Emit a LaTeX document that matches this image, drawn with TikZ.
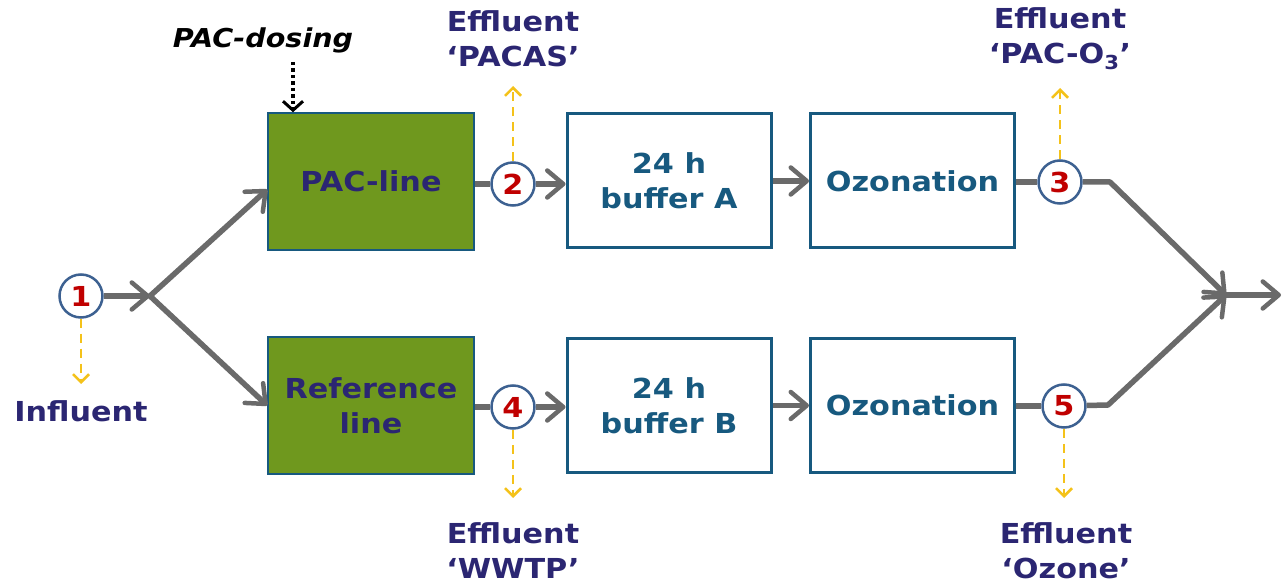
\documentclass[tikz,border=0pt]{standalone}
\usepackage{fontspec}
\setmainfont[FakeStretch=1.1]{DejaVu Sans}
\usetikzlibrary{arrows.meta}
\definecolor{navytxt}{HTML}{2B2672}
\definecolor{tealc}{HTML}{17597F}
\definecolor{pacgreen}{HTML}{6F981E}
\definecolor{flowgray}{HTML}{6A6A6A}
\definecolor{sampy}{HTML}{F4C21A}
\definecolor{numred}{HTML}{C00000}
\definecolor{circb}{HTML}{3D6191}
\tikzset{
  bigfont/.style={font=\fontsize{27.5}{35}\selectfont\bfseries},
  greenbox/.style={draw=tealc, line width=1.5pt, fill=pacgreen, minimum width=206pt, minimum height=137pt, text=navytxt, align=center, bigfont},
  whitebox/.style={draw=tealc, line width=3pt, fill=white, minimum width=204pt, minimum height=134pt, text=tealc, align=center, bigfont},
  sample/.style={circle, draw=circb, line width=2.5pt, fill=white, minimum size=43pt, inner sep=0pt, text=numred, bigfont},
  label/.style={text=navytxt, align=center, bigfont},
  flow/.style={draw=flowgray, line width=5.5pt, line join=round},
  flowarrow/.style={flow, -{Straight Barb[length=16pt,width=27pt,line width=4.5pt,round]}},
  samparrow/.style={draw=sampy, line width=2.5pt, dash pattern=on 9pt off 6pt, -{Straight Barb[length=8pt,width=16pt]}},
  dosearrow/.style={draw=black, line width=3.8pt, dash pattern=on 3.5pt off 3pt, -{Straight Barb[length=9pt,width=20pt,line width=3pt]}}
}
\begin{document}
\begin{tikzpicture}[x=1pt,y=-1pt]
\useasboundingbox (0,0) rectangle (1283,585);
% boxes
\node[greenbox] (pac) at (371,181.5) {PAC-line};
\node[greenbox] (ref) at (371,405.5) {Reference\\line};
\node[whitebox] (bufA) at (669,181) {24 h\\buffer A};
\node[whitebox] (bufB) at (669,405.5) {24 h\\buffer B};
\node[whitebox] (ozA) at (912.5,181) {Ozonation};
\node[whitebox] (ozB) at (912.5,405.5) {Ozonation};
% sample points
\node[sample] (c1) at (81,296) {1};
\node[sample] (c2) at (513,184) {2};
\node[sample] (c3) at (1060,182) {3};
\node[sample] (c4) at (513,407) {4};
\node[sample] (c5) at (1064,406) {5};
% labels
\node[label] (infl) at (81,411) {Influent};
\node[label] (effA) at (513,39) {Effluent\\‘PACAS’};
\node[label] (effB) at (1060,39) {Effluent\\‘PAC-O\textsubscript{3}’};
\node[label] (effC) at (513,551) {Effluent\\‘WWTP’};
\node[label] (effD) at (1066,551) {Effluent\\‘Ozone’};
\node[font=\fontsize{26}{30}\selectfont\bfseries\itshape, text=black] (dose) at (263,40) {PAC-dosing};
% coordinates
\coordinate (split) at (150,296);
\coordinate (merge) at (1226,295);
\coordinate (out) at (1281,295);
\coordinate (k3) at (1110,182);
\coordinate (k5) at (1108,405);
\coordinate (s1) at (81,384);
\coordinate (s2) at (513,86);
\coordinate (s3) at (1060,88);
\coordinate (s4) at (513,498);
\coordinate (s5) at (1064,498);
\coordinate (d0) at (293,62);
% flows
\draw[flowarrow] (c1) -- (split);
\draw[flowarrow] (split) -- ([yshift=-8pt]pac.west);
\draw[flowarrow] (split) -- ([yshift=0pt]ref.west);
\draw[flow] (pac.east |- c2) -- (c2);
\draw[flowarrow] (c2) -- (bufA.west |- c2);
\draw[flow] (ref.east |- c4) -- (c4);
\draw[flowarrow] (c4) -- (bufB.west |- c4);
\draw[flowarrow] (bufA) -- (ozA);
\draw[flowarrow] (bufB) -- (ozB);
\draw[flow] (ozA.east |- c3) -- (c3);
\draw[flow] (ozB.east |- c5) -- (c5);
\draw[flowarrow] (c3) -- (k3) -- (merge);
\draw[flowarrow] (c5) -- (k5) -- (merge);
\draw[flowarrow] (merge) -- (out);
% sampling
\draw[samparrow] (c1) -- (s1);
\draw[samparrow] (c2) -- (s2);
\draw[samparrow] (c3) -- (s3);
\draw[samparrow] (c4) -- (s4);
\draw[samparrow] (c5) -- (s5);
% dosing
\draw[dosearrow] (d0) -- (d0 |- pac.north);
\end{tikzpicture}
\end{document}
